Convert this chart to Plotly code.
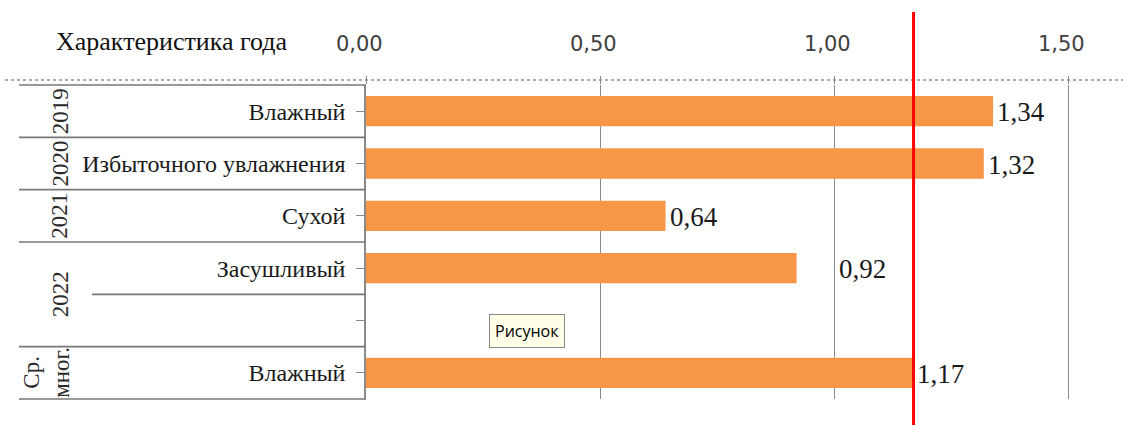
import plotly.graph_objects as go

# ---- data ----
categories = ["Влажный", "Избыточного увлажнения", "Сухой", "Засушливый", "", "Влажный"]
values = [1.34, 1.32, 0.64, 0.92, None, 1.17]
value_labels = ["1,34", "1,32", "0,64", "0,92", "", "1,17"]
groups = ["2019", "2020", "2021", "2022", "Ср.<br>мног."]
group_first = [0, 1, 2, 3, 5]
group_last = [0, 1, 2, 4, 5]
reference_value = 1.17
x_ticks = [0.0, 0.5, 1.0, 1.5]
x_tick_labels = ["0,00", "0,50", "1,00", "1,50"]
axis_title = "Характеристика года"
tooltip_text = "Рисунок"

W, H = 1123, 425
ML, MR, MT, MB = 366, 0, 85, 26
plot_w = W - ML - MR
plot_h = H - MT - MB
n = len(categories)
px_per_unit = 468.0

SERIF = "Liberation Serif"
SANS = "DejaVu Sans"
GRAY = "#8a8a8a"
NBSP = "\u00a0"

ypos = list(range(n))

fig = go.Figure()
fig.add_trace(go.Bar(
    x=values, y=ypos, orientation="h",
    marker=dict(color="#F79646", line=dict(width=0)),
    width=0.58, hoverinfo="skip", showlegend=False,
))

def ypaper(pix):
    return (H - MB - pix) / plot_h

def xpaper(pix):
    return (pix - ML) / plot_w

shapes = []
# dotted line at top
shapes.append(dict(type="line", xref="paper", yref="paper",
                   x0=xpaper(5), x1=1.0, y0=ypaper(80), y1=ypaper(80),
                   line=dict(color="#909090", width=1.5, dash="dot")))
# group separators (full width of the label area)
boundaries = [group_first[0]] + [g + 1 for g in group_last]
for b in boundaries:
    yb = 1 - b / n
    shapes.append(dict(type="line", xref="paper", yref="paper",
                       x0=xpaper(19), x1=0, y0=yb, y1=yb,
                       line=dict(color="#777777", width=1.6)))
# inner separators inside a group (category level only)
for f, l in zip(group_first, group_last):
    for b in range(f + 1, l + 1):
        yb = 1 - b / n
        shapes.append(dict(type="line", xref="paper", yref="paper",
                           x0=xpaper(92), x1=0, y0=yb, y1=yb,
                           line=dict(color="#777777", width=1.6)))
# red reference line
shapes.append(dict(type="line", xref="x", yref="paper",
                   x0=reference_value, x1=reference_value,
                   y0=ypaper(425), y1=ypaper(12),
                   line=dict(color="#FF0000", width=3)))

annotations = []
# group labels (rotated)
for g, f, l in zip(groups, group_first, group_last):
    yc = 1 - ((f + l + 1) / 2) / n
    two_lines = "<br>" in g
    annotations.append(dict(text=g, xref="paper", yref="paper",
                            x=xpaper(47 if two_lines else 60), y=yc,
                            showarrow=False, textangle=-90,
                            font=dict(family=SERIF, size=23, color="#2a2a2a"),
                            xanchor="center", yanchor="middle"))
# value labels
label_shift = [2, 2, 2, 40, 0, 1]
for i, (v, t) in enumerate(zip(values, value_labels)):
    if v is None:
        continue
    annotations.append(dict(text=t, x=v, y=i, xref="x", yref="y",
                            showarrow=False, xanchor="left", yanchor="middle",
                            xshift=label_shift[i], yshift=-1,
                            font=dict(family=SERIF, size=27, color="#1a1a1a")))
# axis title
annotations.append(dict(text=axis_title, xref="paper", yref="paper",
                        x=xpaper(172), y=ypaper(42), showarrow=False,
                        xanchor="center", yanchor="middle",
                        font=dict(family=SERIF, size=26, color="#111111")))
# tooltip
annotations.append(dict(text=tooltip_text, xref="paper", yref="paper",
                        x=xpaper(527), y=ypaper(331), showarrow=False,
                        xanchor="center", yanchor="middle",
                        bgcolor="#FFFFE8", bordercolor="#8a8a8a", borderwidth=1,
                        borderpad=5,
                        font=dict(family="Open Sans", size=16, color="#000000")))

fig.update_layout(
    width=W, height=H,
    margin=dict(l=ML, r=MR, t=MT, b=MB, pad=0),
    paper_bgcolor="white", plot_bgcolor="white",
    shapes=shapes, annotations=annotations,
    xaxis=dict(side="top", range=[0, plot_w / px_per_unit],
               tickvals=x_ticks, ticktext=[t + NBSP * 2 for t in x_tick_labels],
               showgrid=True, gridcolor=GRAY, gridwidth=1.2,
               zeroline=False, showline=False,
               ticks="outside", ticklen=8, tickcolor=GRAY, tickwidth=1.2,
               ticklabelstandoff=17,
               tickfont=dict(family=SANS, size=21, color="#404040"),
               fixedrange=True),
    yaxis=dict(range=[n - 0.5, -0.5], tickvals=ypos, ticktext=categories,
               showgrid=False, zeroline=False,
               showline=True, linecolor=GRAY, linewidth=1.5,
               ticks="outside", ticklen=8, tickcolor=GRAY, tickwidth=1.2,
               ticklabelstandoff=6,
               tickfont=dict(family=SERIF, size=24, color="#1a1a1a"),
               fixedrange=True),
)

fig.write_html("out.html")
